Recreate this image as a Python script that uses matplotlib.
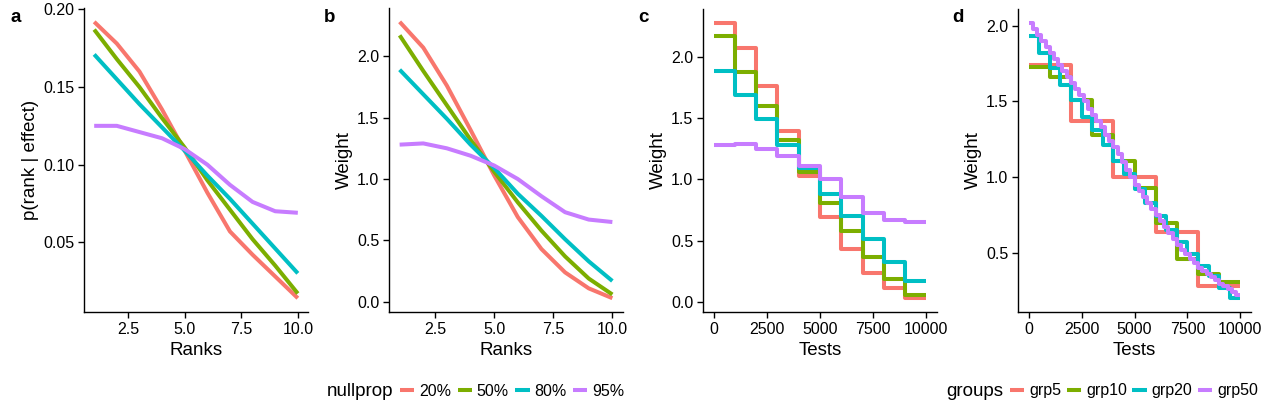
import numpy as np
import matplotlib
matplotlib.use("Agg")
import matplotlib.pyplot as plt
from matplotlib.lines import Line2D

plt.rcParams['font.family'] = ['Liberation Sans', 'DejaVu Sans']

colors = ['#F8766D', '#7CAE00', '#00BFC4', '#C77CFF']

# panel a / b / c data
ranks = np.arange(1, 11)
nullprop = ['20%', '50%', '80%', '95%']
prob = {
    '20%': [0.192, 0.178, 0.160, 0.1355, 0.109, 0.082, 0.057, 0.042, 0.028, 0.014],
    '50%': [0.187, 0.168, 0.150, 0.130, 0.111, 0.090, 0.071, 0.052, 0.035, 0.017],
    '80%': [0.171, 0.155, 0.139, 0.124, 0.109, 0.093, 0.078, 0.062, 0.046, 0.030],
    '95%': [0.125, 0.125, 0.121, 0.117, 0.110, 0.100, 0.087, 0.076, 0.070, 0.069],
}
weight = {
    '20%': [2.28, 2.07, 1.76, 1.40, 1.03, 0.69, 0.43, 0.24, 0.11, 0.03],
    '50%': [2.17, 1.88, 1.60, 1.32, 1.06, 0.81, 0.58, 0.37, 0.19, 0.06],
    '80%': [1.89, 1.69, 1.49, 1.28, 1.09, 0.88, 0.70, 0.51, 0.33, 0.17],
    '95%': [1.28, 1.29, 1.25, 1.19, 1.11, 1.00, 0.86, 0.73, 0.67, 0.65],
}
n_tests = 10000

# panel d data
groups = ['grp5', 'grp10', 'grp20', 'grp50']
grp_weight = {
    'grp5': [1.74, 1.37, 1.00, 0.64, 0.28],
    'grp10': [1.73, 1.66, 1.51, 1.28, 1.11, 0.93, 0.70, 0.46, 0.36, 0.31],
    'grp20': [1.93, 1.82, 1.72, 1.61, 1.51, 1.40, 1.31, 1.21, 1.11, 1.02,
              0.92, 0.83, 0.74, 0.65, 0.57, 0.49, 0.41, 0.35, 0.27, 0.20],
    'grp50': [2.02, 1.98, 1.94, 1.90, 1.86, 1.82, 1.78, 1.74, 1.70, 1.66,
              1.62, 1.58, 1.54, 1.50, 1.45, 1.41, 1.37, 1.33, 1.28, 1.24,
              1.20, 1.15, 1.10, 1.05, 1.00, 0.95, 0.91, 0.87, 0.83, 0.79,
              0.75, 0.71, 0.67, 0.63, 0.59, 0.55, 0.52, 0.49, 0.46, 0.43,
              0.40, 0.38, 0.36, 0.34, 0.32, 0.295, 0.28, 0.26, 0.24, 0.22],
}

W, H = 1262, 412
fig = plt.figure(figsize=(W / 100, H / 100), dpi=100)


def rect(l, r, t, b):
    return [l / W, 1 - b / H, (r - l) / W, (b - t) / H]


def style(ax, xlabel, ylabel):
    for s in ['top', 'right']:
        ax.spines[s].set_visible(False)
    for s in ['left', 'bottom']:
        ax.spines[s].set_linewidth(1.0)
    ax.tick_params(labelsize=11.5, length=4, width=1.0, colors='black', pad=3)
    ax.set_xlabel(xlabel, fontsize=13.5, labelpad=4)
    ax.set_ylabel(ylabel, fontsize=13.5, labelpad=3)


lw = 2.9
kw = dict(lw=lw, solid_capstyle='butt')

axa = fig.add_axes(rect(84, 308, 8, 312))
for c, k in zip(colors, nullprop):
    axa.plot(ranks, prob[k], color=c, **kw)
axa.set_xticks([2.5, 5.0, 7.5, 10.0])
axa.set_xticklabels(['2.5', '5.0', '7.5', '10.0'])
axa.set_yticks([0.05, 0.10, 0.15, 0.20])
axa.set_yticklabels(['0.05', '0.10', '0.15', '0.20'])
style(axa, 'Ranks', 'p(rank | effect)')

axb = fig.add_axes(rect(389, 623, 8, 312))
for c, k in zip(colors, nullprop):
    axb.plot(ranks, weight[k], color=c, **kw)
axb.set_xticks([2.5, 5.0, 7.5, 10.0])
axb.set_xticklabels(['2.5', '5.0', '7.5', '10.0'])
axb.set_yticks([0.0, 0.5, 1.0, 1.5, 2.0])
axb.set_yticklabels(['0.0', '0.5', '1.0', '1.5', '2.0'])
style(axb, 'Ranks', 'Weight')

axc = fig.add_axes(rect(703, 937, 9, 312))
for c, k in zip(colors, nullprop):
    w = weight[k]
    x = np.linspace(0, n_tests, len(w) + 1)
    axc.plot(x, list(w) + [w[-1]], drawstyle='steps-post', color=c, **kw)
axc.set_xticks([0, 2500, 5000, 7500, 10000])
axc.set_yticks([0.0, 0.5, 1.0, 1.5, 2.0])
axc.set_yticklabels(['0.0', '0.5', '1.0', '1.5', '2.0'])
style(axc, 'Tests', 'Weight')

axd = fig.add_axes(rect(1018, 1251, 9, 312))
for c, k in zip(colors, groups):
    w = grp_weight[k]
    x = np.linspace(0, n_tests, len(w) + 1)
    axd.plot(x, list(w) + [w[-1]], drawstyle='steps-post', color=c, **kw)
axd.set_xticks([0, 2500, 5000, 7500, 10000])
axd.set_yticks([0.5, 1.0, 1.5, 2.0])
axd.set_yticklabels(['0.5', '1.0', '1.5', '2.0'])
style(axd, 'Tests', 'Weight')

for lab, x in zip(['a', 'b', 'c', 'd'], [16, 330, 643, 958]):
    fig.text(x / W, 1 - 17 / H, lab, fontsize=13.5, fontweight='bold', ha='center', va='center')

# legends
ly = 1 - 391 / H
fig.text(327 / W, ly, 'nullprop', fontsize=13.5, va='center', ha='left')
h1 = [Line2D([], [], color=c, lw=lw, solid_capstyle='butt') for c in colors]
fig.legend(h1, nullprop, loc='center left', bbox_to_anchor=(400 / W, ly), ncol=4,
           frameon=False, fontsize=11.5, handlelength=0.9, handletextpad=0.3,
           columnspacing=0.4, borderpad=0, borderaxespad=0)

fig.text(946 / W, ly, 'groups', fontsize=13.5, va='center', ha='left')
h2 = [Line2D([], [], color=c, lw=lw, solid_capstyle='butt') for c in colors]
fig.legend(h2, groups, loc='center left', bbox_to_anchor=(1010 / W, ly), ncol=4,
           frameon=False, fontsize=11.5, handlelength=0.9, handletextpad=0.3,
           columnspacing=0.35, borderpad=0, borderaxespad=0)

fig.savefig('out.png', dpi=100)
